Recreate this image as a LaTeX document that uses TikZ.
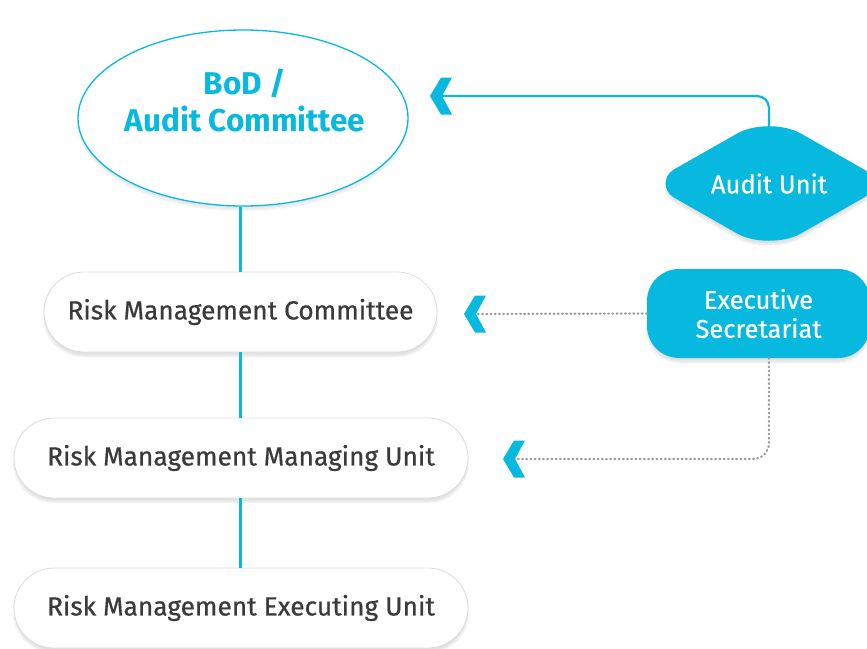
\documentclass[tikz,border=0pt]{standalone}
\usepackage{fontspec}
\setmainfont{Fira Sans}
\newfontfamily\medfont{Fira Sans}[FakeBold=0.6]
\usetikzlibrary{shapes.geometric,shadows.blur}
\definecolor{cy}{HTML}{08B9DF}
\definecolor{tx}{HTML}{3A3A3A}
\definecolor{bd}{HTML}{DCDCDC}
\definecolor{dg}{HTML}{9A9A9A}
\tikzset{
  box/.style={draw=bd, line width=0.8pt, fill=white, rounded corners=40pt,
    minimum height=80pt, inner sep=0pt, text=tx, font=\medfont\fontsize{26.3}{30}\selectfont,
    blur shadow={shadow blur steps=6, shadow xshift=0pt, shadow yshift=-4pt, shadow opacity=12}},
  cyline/.style={draw=cy, line width=2.2pt},
  dotline/.style={draw=dg, line width=2.2pt, line cap=round, dash pattern=on 0.8pt off 3.4pt},
  chev/.pic={\fill[cy] (0,0) -- (11,-18.5) -- (22,-18.5) -- (12,0) -- (22,18.5) -- (11,18.5) -- cycle;},
  whitetext/.style={text=white, font=\medfont\fontsize{25.5}{29}\selectfont, align=center, inner sep=0pt}
}
\begin{document}
\begin{tikzpicture}[x=1pt,y=-1pt]
\useasboundingbox (0,0) rectangle (867,648);
\clip (0,0) rectangle (867,648);
% BoD ellipse
\node[ellipse, draw=cy, line width=1.3pt, fill=white, minimum width=330pt, minimum height=176pt,
  blur shadow={shadow blur steps=6, shadow xshift=0pt, shadow yshift=-4pt, shadow opacity=10}] (bod) at (243,118) {};
\node[text=cy, font=\bfseries\fontsize{31.5}{37}\selectfont, align=center, inner sep=0pt] (bodt) at (245,100) {BoD /\\Audit Committee};
% boxes
\node[box, minimum width=393pt] (rmc) at (240.5,312) {\raisebox{-2pt}{Risk Management Committee}};
\node[box, minimum width=454pt] (rmmu) at (241,458) {\raisebox{-2pt}{Risk Management Managing Unit}};
\node[box, minimum width=454pt] (rmeu) at (241,608) {\raisebox{-1pt}{Risk Management Executing Unit}};
% vertical connectors
\draw[cyline] (rmc.north |- bod.south) -- (rmc.north);
\draw[cyline] (rmc.south) -- (rmc.south |- rmmu.north);
\draw[cyline] (rmc.south |- rmmu.south) -- (rmc.south |- rmeu.north);
% Audit Unit shape
\fill[cy, blur shadow={shadow blur steps=6, shadow xshift=0pt, shadow yshift=-4pt, shadow opacity=12}]
  (673,170) -- (738,133) .. controls (755,124) and (783,124) .. (800,133)
  -- (865,170) .. controls (875,177) and (875,190) .. (865,197)
  -- (800,234) .. controls (783,243) and (755,243) .. (738,234)
  -- (673,197) .. controls (663,190) and (663,177) .. (673,170) -- cycle;
\node[whitetext, minimum width=208pt, minimum height=113pt] (au) at (769,183.5) {Audit Unit};
% Executive Secretariat
\node[whitetext, fill=cy, rounded corners=32pt, minimum width=223pt, minimum height=89pt,
  blur shadow={shadow blur steps=6, shadow xshift=0pt, shadow yshift=-4pt, shadow opacity=12}] (es) at (758.5,313.5) {Executive\\Secretariat};
% connectors
\coordinate (c1) at (438,96);
\coordinate (c2) at (474,314);
\coordinate (c3) at (513,459);
\coordinate (esb) at (769,358);
\draw[cyline, rounded corners=12pt] (au.north) |- (c1);
\draw[dotline] (es.west) -- (c2);
\draw[dotline, rounded corners=16pt] (esb) |- (c3);
\pic at (430,96) {chev};
\pic at (464,314) {chev};
\pic at (503,459) {chev};
\end{tikzpicture}
\end{document}
